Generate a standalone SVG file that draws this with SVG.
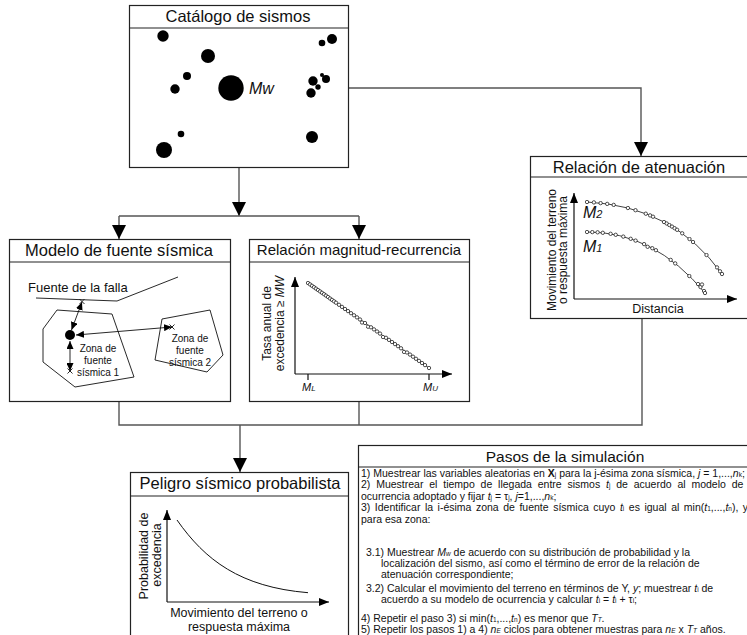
<svg xmlns="http://www.w3.org/2000/svg" width="747" height="635" viewBox="0 0 747 635">
<defs>
<style>
text{font-family:"Liberation Sans",Arial,Helvetica,sans-serif;fill:#111}
.box{fill:#fff;stroke:#222;stroke-width:1.2}
.band{stroke:#222;stroke-width:1.2}
.t{font-size:16.5px;text-anchor:middle}
.ax{fill:none;stroke:#111;stroke-width:1.2}
.lab{font-size:12.5px;text-anchor:middle}
.conn{fill:none;stroke:#555;stroke-width:1.4}
.st{font-size:10.5px}
.i{font-style:italic}
.sb{font-size:6.5px}
.dots{fill:none;stroke:none}
.thin{fill:none;stroke:#111;stroke-width:0.9}
.blk{fill:#000}
</style>
<marker id="big" markerUnits="userSpaceOnUse" viewBox="0 0 14 14" markerWidth="14" markerHeight="14" refX="14" refY="7" orient="auto"><path d="M0,0L14,7L0,14z" fill="#000"/></marker>
<marker id="axa" markerUnits="userSpaceOnUse" viewBox="0 0 10 8" markerWidth="10" markerHeight="8" refX="10" refY="4" orient="auto"><path d="M0,0L10,4L0,8z" fill="#000"/></marker>
<marker id="sm" markerUnits="userSpaceOnUse" viewBox="0 0 8 7" markerWidth="8" markerHeight="7" refX="8" refY="3.5" orient="auto-start-reverse"><path d="M0,0L8,3.5L0,7z" fill="#000"/></marker>
<marker id="oc" markerUnits="userSpaceOnUse" viewBox="-2.5 -2.5 5 5" markerWidth="5" markerHeight="5" refX="0" refY="0" orient="0"><circle r="1.7" fill="#fff" stroke="#222" stroke-width="0.8"/></marker>
</defs>
<rect width="747" height="635" fill="#fff"/>

<g id="connectors" class="conn">
<path d="M239,168V216" marker-end="url(#big)"/>
<path d="M119,216H359"/>
<path d="M119,216V239" marker-end="url(#big)"/>
<path d="M359,216V239" marker-end="url(#big)"/>
<path d="M348,88H641V156" marker-end="url(#big)"/>
<path d="M119,402V425H642V318"/>
<path d="M359,402V425"/>
<path d="M240,425V472" marker-end="url(#big)"/>
</g>

<g id="catalogo">
<rect class="box" x="129.5" y="5.5" width="219" height="162"/>
<line class="band" x1="129.5" y1="28" x2="348.5" y2="28"/>
<text class="t" x="238" y="22">Catálogo de sismos</text>
<g class="blk">
<circle cx="163" cy="36" r="5.7"/><circle cx="208" cy="56" r="7"/><circle cx="187" cy="76" r="4"/><circle cx="175" cy="89" r="4.7"/>
<circle cx="231" cy="88" r="12.7"/><circle cx="181" cy="134" r="3.3"/><circle cx="164" cy="150" r="8"/>
<circle cx="332" cy="39" r="5"/><circle cx="322" cy="43" r="3.3"/><circle cx="313" cy="81" r="4.7"/><circle cx="326" cy="79" r="4"/>
<circle cx="322" cy="75" r="2"/><circle cx="318" cy="87" r="2.7"/><circle cx="311" cy="93" r="4.7"/><circle cx="312" cy="137" r="6"/>
</g>
<text x="249" y="94" class="i" font-size="16">Mw</text>
</g>

<g id="modelo">
<rect class="box" x="9.5" y="239.5" width="221" height="162"/>
<line class="band" x1="9.5" y1="262" x2="230.5" y2="262"/>
<text class="t" x="119" y="256">Modelo de fuente sísmica</text>
<text x="28" y="292" font-size="13">Fuente de la falla</text>
<polyline class="thin" points="36,298 117,301 178,277"/>
<polygon class="thin" points="57,310 112,314 134,377 75,387 43,362 43,329"/>
<polygon class="thin" points="162,319 210,310 223,355 207,372 155,360"/>
<circle cx="70" cy="335" r="5" fill="#000"/>
<g class="thin">
<path d="M71.5,330L82,302" marker-start="url(#sm)" marker-end="url(#sm)"/>
<path d="M76,335L172,327" marker-start="url(#sm)" marker-end="url(#sm)"/>
<path d="M70,341L70,371" marker-start="url(#sm)" marker-end="url(#sm)"/>
<path d="M79.5,299l5,5m0,-5l-5,5M169.5,324.5l5,5m0,-5l-5,5M67.5,368.5l5,5m0,-5l-5,5"/>
</g>
<g font-size="10" text-anchor="middle">
<text x="98" y="352">Zona de</text><text x="98" y="364">fuente</text><text x="98" y="376">sísmica 1</text>
<text x="190" y="342">Zona de</text><text x="190" y="354">fuente</text><text x="190" y="366">sísmica 2</text>
</g>
</g>

<g id="magnitud">
<rect class="box" x="249.5" y="239.5" width="220" height="162"/>
<line class="band" x1="249.5" y1="262" x2="469.5" y2="262"/>
<text class="t" x="359" y="255" style="font-size:15px">Relación magnitud-recurrencia</text>
<path class="ax" d="M295,374V277" marker-end="url(#axa)"/>
<path class="ax" d="M295,374H452" marker-end="url(#axa)"/>
<path class="ax" d="M308,374v6M429,374v6"/>
<path d="M308,283L429,368" stroke="#111" stroke-width="0.8"/>
<polyline class="dots" marker-start="url(#oc)" marker-mid="url(#oc)" marker-end="url(#oc)" points="308,283 310,284.4 312,285.8 314,287.2 316,288.6 318,290 320,291.4 322,292.8 324,294.2 326,295.6 328,297 330,298.5 332,299.9 334,301.3 336,302.7 339,304.8 342,306.9 345,309 348,311.1 351,313.2 354,315.3 357,317.4 360,319.5 362,322.5 365,323 368,326.7 371,327.3 374,329.4 377,331.5 380,333.6 383,337 386,337.8 389,339.9 392,342 395,344.1 398,346.2 401,348.3 404,351.9 407,352.5 410,354.6 413,356.7 416,358.8 419,360.9 422,363 425,365.1 429,368"/>
<text transform="translate(271,323.5) rotate(-90)" class="lab" style="font-size:12px">Tasa anual de</text>
<text transform="translate(284,323.5) rotate(-90)" class="lab" style="font-size:12px">excedencia ≥ <tspan class="i">MW</tspan></text>
<text x="302" y="391" class="i"><tspan font-size="11">M</tspan><tspan font-size="8">L</tspan></text>
<text x="423" y="391" class="i"><tspan font-size="11">M</tspan><tspan font-size="8">U</tspan></text>
</g>

<g id="atenuacion">
<rect class="box" x="530.5" y="156.5" width="218" height="162"/>
<line class="band" x1="530.5" y1="177" x2="748" y2="177"/>
<text class="t" x="639" y="172.5">Relación de atenuación</text>
<path class="ax" d="M574,299V193" marker-end="url(#axa)"/>
<path class="ax" d="M574,299H737" marker-end="url(#axa)"/>
<path d="M587,202Q673.5,206 722,274M587,232Q654,231.5 705,293" fill="none" stroke="#111" stroke-width="0.8"/>
<polyline class="dots" marker-start="url(#oc)" marker-mid="url(#oc)" marker-end="url(#oc)" points="587,202 593.9,202.4 600.6,203.1 607.2,203.9 613.7,204.9 627.9,208 635.5,210.2 645.8,213.7 650.1,215.4 653,216.7 664,222 666.7,223.5 669.3,225 672,226.6 674.6,228.2 677.1,229.8 682.2,233.3 689.5,239 693,242 706.5,255 717,267.4 720,271.3 722,274"/>
<polyline class="dots" marker-start="url(#oc)" marker-mid="url(#oc)" marker-end="url(#oc)" points="587,232 592.3,232.1 597.6,232.3 602.8,232.8 610.6,233.8 615.7,234.8 623.3,236.6 630.7,238.8 635.6,240.6 644.1,244.1 647.6,246.8 652.3,248.2 655.9,250.2 670.7,259.9 675.2,263.4 689.3,276 698,284 700.5,287 702,284.5 704,291 705,293"/>
<text x="583" y="218" class="i"><tspan font-size="16">M</tspan><tspan font-size="11">2</tspan></text>
<text x="583" y="252" class="i"><tspan font-size="16">M</tspan><tspan font-size="11">1</tspan></text>
<text x="658" y="313" class="lab">Distancia</text>
<text transform="translate(556,250) rotate(-90)" class="lab" style="font-size:12px">Movimiento del terreno</text>
<text transform="translate(567,250) rotate(-90)" class="lab" style="font-size:12px">o respuesta máxima</text>
</g>

<g id="peligro">
<rect class="box" x="130.5" y="472.5" width="218" height="175"/>
<line class="band" x1="130.5" y1="496" x2="348.5" y2="496"/>
<text class="t" x="240" y="489">Peligro sísmico probabilista</text>
<path class="ax" d="M167,602V510" marker-end="url(#axa)"/>
<path class="ax" d="M167,602H329" marker-end="url(#axa)"/>
<path d="M177,520C205,560 240,587 308,592.7" fill="none" stroke="#111" stroke-width="1"/>
<text transform="translate(148,556) rotate(-90)" class="lab">Probabilidad de</text>
<text transform="translate(161,555) rotate(-90)" class="lab">excedencia</text>
<text x="239" y="617" class="lab">Movimiento del terreno o</text>
<text x="239" y="631" class="lab">respuesta máxima</text>
</g>

<g id="pasos">
<rect class="box" x="358.5" y="445.5" width="420" height="200"/>
<line class="band" x1="358.5" y1="467" x2="748" y2="467"/>
<text class="t" x="565" y="462" style="font-size:15.5px">Pasos de la simulación</text>
<g class="st">
<text x="361" y="476.5">1) Muestrear las variables aleatorias en <tspan font-weight="bold">X</tspan><tspan class="sb">j</tspan> para la j-ésima zona sísmica, <tspan class="i">j</tspan> = 1,...,<tspan class="i">n</tspan><tspan class="sb">k</tspan>;</text>
<text x="361" y="488" word-spacing="2.9">2) Muestrear el tiempo de llegada entre sismos <tspan class="i">t</tspan><tspan class="sb">j</tspan> de acuerdo al modelo de</text>
<text x="361" y="499.5">ocurrencia adoptado y fijar <tspan class="i">t</tspan><tspan class="sb">j</tspan> = τ<tspan class="sb">j</tspan>, <tspan class="i">j</tspan>=1,...,<tspan class="i">n</tspan><tspan class="sb">k</tspan>;</text>
<text x="361" y="511" word-spacing="1.6">3) Identificar la i-ésima zona de fuente sísmica cuyo <tspan class="i">t</tspan><tspan class="sb">i</tspan> es igual al min(<tspan class="i">t</tspan><tspan class="sb">1</tspan>,...,<tspan class="i">t</tspan><tspan class="sb">n</tspan>), y</text>
<text x="361" y="522.5">para esa zona:</text>
<text x="366" y="556">3.1)  Muestrear <tspan class="i">M</tspan><tspan class="sb i">w</tspan> de acuerdo con su distribución de probabilidad y la</text>
<text x="381" y="567">localización del sismo, así como el término de error de la relación de</text>
<text x="381" y="578">atenuación correspondiente;</text>
<text x="366" y="591.5">3.2) Calcular el movimiento del terreno en términos de Y,  <tspan class="i">y</tspan>; muestrear <tspan class="i">t</tspan><tspan class="sb">i</tspan> de</text>
<text x="381" y="602.5">acuerdo a su modelo de ocurrencia y calcular  <tspan class="i">t</tspan><tspan class="sb">i</tspan> = <tspan class="i">t</tspan><tspan class="sb">i</tspan> + τ<tspan class="sb">i</tspan>;</text>
<text x="361" y="622">4) Repetir el paso 3) si min(<tspan class="i">t</tspan><tspan class="sb">1</tspan>,...,<tspan class="i">t</tspan><tspan class="sb">n</tspan>) es menor que <tspan class="i">T</tspan><tspan class="sb i">T</tspan>.</text>
<text x="361" y="633">5) Repetir los pasos 1) a 4) <tspan class="i">n</tspan><tspan class="sb i">E</tspan> ciclos para obtener muestras para <tspan class="i">n</tspan><tspan class="sb i">E</tspan> x <tspan class="i">T</tspan><tspan class="sb i">T</tspan> años.</text>
</g>
</g>
</svg>
